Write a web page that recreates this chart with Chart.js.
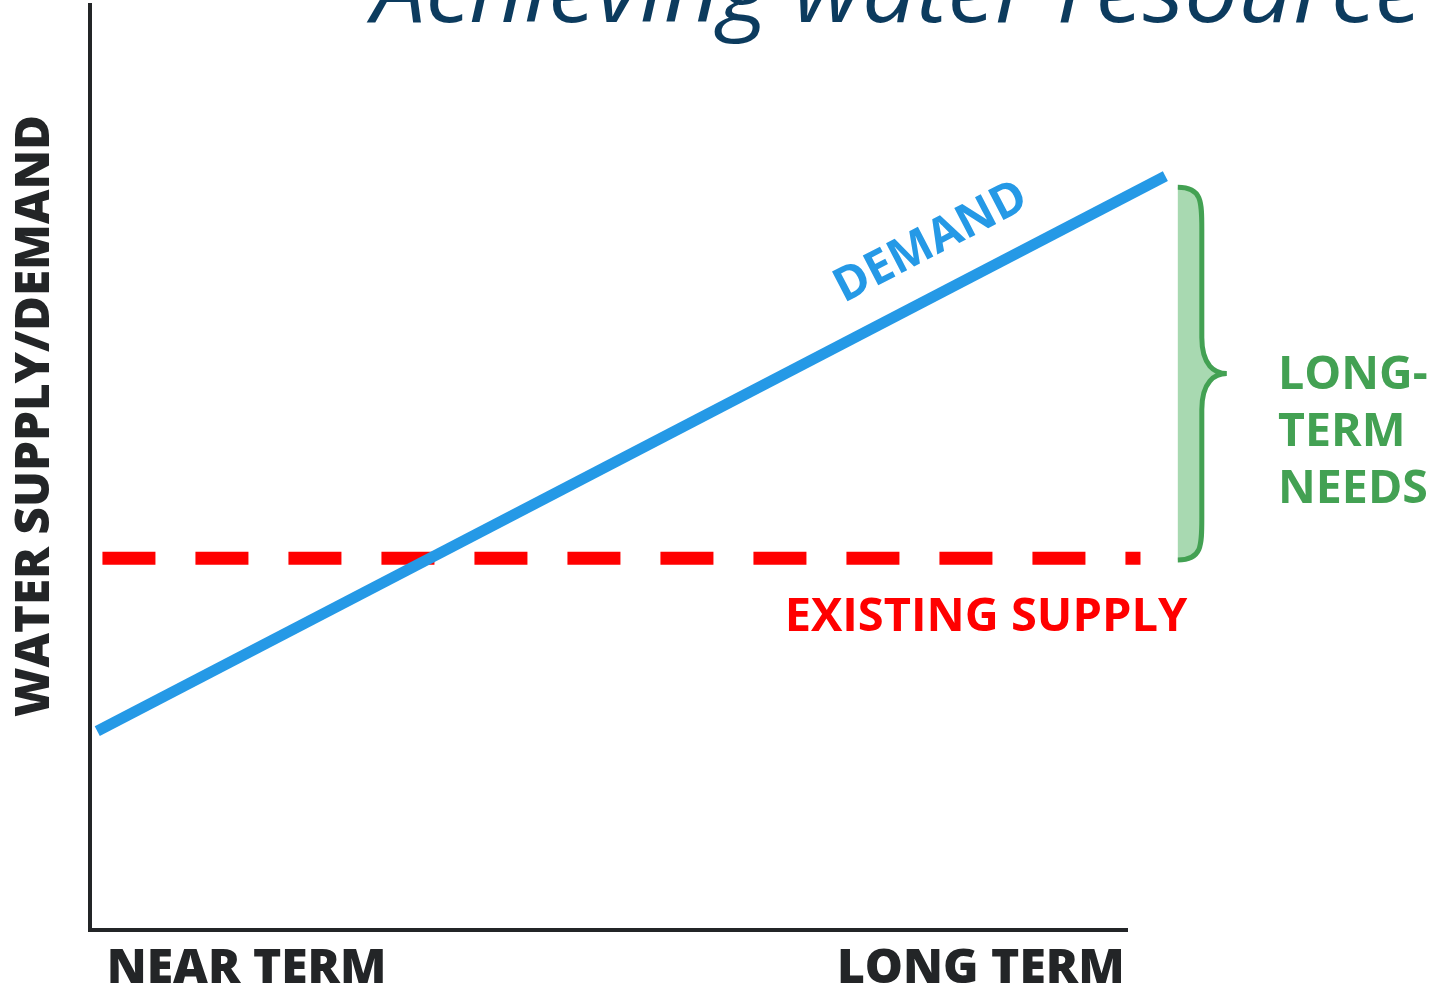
<!DOCTYPE html>
<html>
<head>
<meta charset="utf-8">
<script src="https://cdn.jsdelivr.net/npm/chart.js@4"></script>
<style>
  html, body { margin: 0; padding: 0; background: #fff; }
  #wrap { width: 1435px; height: 989px; position: relative; }
</style>
</head>
<body>
<div id="wrap"><canvas id="chart"></canvas></div>
<script>
// values (x: 0 = near term, 100 = long term; y: 0..100 arbitrary units)
const demandX = [0.7, 103.7];
const demandY = [21.5, 81.5];
const supplyX = [1.2, 101.3];
const supplyY = [40.2, 40.2];
const tickValues = [15.1, 85.9];
const tickLabels = ["NEAR TERM", "LONG TERM"];
const braceRange = [40.0, 80.3];   // gap between supply and demand
const braceX = 104.9;

const TITLE = "Achieving water resource";
const Y_TITLE = "WATER SUPPLY/DEMAND";

const AXIS = "#232527";
const BLUE = "#2599e6";
const RED = "#ff0000";
const GREEN = "#43a153";
const GREEN_FILL = "#a8d9b1";
const NAVY = "#0c3b5e";
const FONT = "'Open Sans', 'DejaVu Sans', sans-serif";

// brace path from (bx, top) to (bx, bot), tip pointing right
function bracePath(ctx, bx, top, bot) {
  const mid = (top + bot) / 2;
  const vx = bx + 24, tip = bx + 49;
  ctx.moveTo(bx, top);
  ctx.bezierCurveTo(vx, top, vx, top + 14, vx, top + 42);
  ctx.lineTo(vx, mid - 36);
  ctx.bezierCurveTo(vx, mid - 8, tip - 12, mid, tip, mid);
  ctx.bezierCurveTo(tip - 12, mid, vx, mid + 8, vx, mid + 36);
  ctx.lineTo(vx, bot - 42);
  ctx.bezierCurveTo(vx, bot - 14, vx, bot, bx, bot);
}

// extra drawing: title, brace, in-chart labels
const notes = {
  id: "notes",
  beforeDraw(chart) {
    const ctx = chart.ctx;
    ctx.save();
    ctx.fillStyle = NAVY;
    ctx.font = "italic 400 90px " + FONT;
    ctx.textBaseline = "alphabetic";
    const w = ctx.measureText(TITLE).width;
    ctx.translate(372, 22);
    ctx.scale(1050 / w, 1);
    ctx.fillText(TITLE, 0, 0);
    ctx.restore();
  },
  afterDatasetsDraw(chart) {
    const ctx = chart.ctx;
    const x = chart.scales.x, y = chart.scales.y;
    const area = chart.chartArea;

    // y axis title
    ctx.save();
    ctx.fillStyle = AXIS;
    ctx.font = "800 47.5px " + FONT;
    ctx.textAlign = "center";
    ctx.textBaseline = "middle";
    ctx.translate(area.left - 55, 416);
    ctx.rotate(-Math.PI / 2);
    ctx.fillText(Y_TITLE, 0, 0);
    ctx.restore();

    // brace
    const bx = x.getPixelForValue(braceX);
    const top = y.getPixelForValue(braceRange[1]);
    const bot = y.getPixelForValue(braceRange[0]);
    ctx.save();
    ctx.beginPath();
    bracePath(ctx, bx, top, bot);
    ctx.closePath();
    ctx.fillStyle = GREEN_FILL;
    ctx.fill();
    ctx.beginPath();
    bracePath(ctx, bx, top, bot);
    ctx.strokeStyle = GREEN;
    ctx.lineWidth = 5;
    ctx.stroke();
    ctx.restore();

    // DEMAND label along the line
    const ang = Math.atan2(
      y.getPixelForValue(demandY[1]) - y.getPixelForValue(demandY[0]),
      x.getPixelForValue(demandX[1]) - x.getPixelForValue(demandX[0]));
    ctx.save();
    ctx.fillStyle = BLUE;
    ctx.font = "700 47px " + FONT;
    ctx.textAlign = "center";
    ctx.textBaseline = "middle";
    ctx.translate(x.getPixelForValue(81.1), y.getPixelForValue(74.3));
    ctx.rotate(ang);
    ctx.fillText("DEMAND", 0, 0);
    ctx.restore();

    // EXISTING SUPPLY
    ctx.save();
    ctx.fillStyle = RED;
    ctx.font = "700 47px " + FONT;
    ctx.textAlign = "center";
    ctx.textBaseline = "alphabetic";
    ctx.fillText("EXISTING SUPPLY", x.getPixelForValue(86.4), 631);
    ctx.restore();

    // LONG-TERM NEEDS
    ctx.save();
    ctx.fillStyle = GREEN;
    ctx.font = "700 46.5px " + FONT;
    ctx.textAlign = "left";
    ["LONG-", "TERM", "NEEDS"].forEach((t, i) => {
      ctx.fillText(t, 1278, 389 + i * 57);
    });
    ctx.restore();
  }
};

new Chart(document.getElementById("chart"), {
  type: "line",
  data: {
    datasets: [
      {
        label: "Demand",
        data: demandX.map((v, i) => ({ x: v, y: demandY[i] })),
        borderColor: BLUE,
        borderWidth: 11,
        borderCapStyle: "butt",
        pointRadius: 0,
        clip: false
      },
      {
        label: "Existing supply",
        data: supplyX.map((v, i) => ({ x: v, y: supplyY[i] })),
        borderColor: RED,
        borderWidth: 13,
        borderDash: [53, 40],
        borderCapStyle: "butt",
        pointRadius: 0,
        clip: false
      }
    ]
  },
  options: {
    responsive: true,
    maintainAspectRatio: false,
    animation: false,
    layout: { padding: { left: 90, top: 5, right: 308, bottom: -19 } },
    plugins: { legend: { display: false }, tooltip: { enabled: false } },
    scales: {
      x: {
        type: "linear",
        min: 0,
        max: 100,
        grid: { display: false, drawTicks: false },
        border: { display: true, color: AXIS, width: 4 },
        afterBuildTicks: (s) => { s.ticks = tickValues.map(v => ({ value: v })); },
        ticks: {
          autoSkip: false,
          maxRotation: 0,
          padding: 15,
          color: AXIS,
          font: { family: FONT, size: 48, weight: "800", lineHeight: 1.0 },
          callback: (v) => tickLabels[tickValues.indexOf(v)]
        }
      },
      y: {
        type: "linear",
        min: 0,
        max: 100,
        grid: { display: false, drawTicks: false },
        border: { display: true, color: AXIS, width: 4 },
        ticks: { display: false }
      }
    }
  },
  plugins: [notes]
});
</script>
</body>
</html>
